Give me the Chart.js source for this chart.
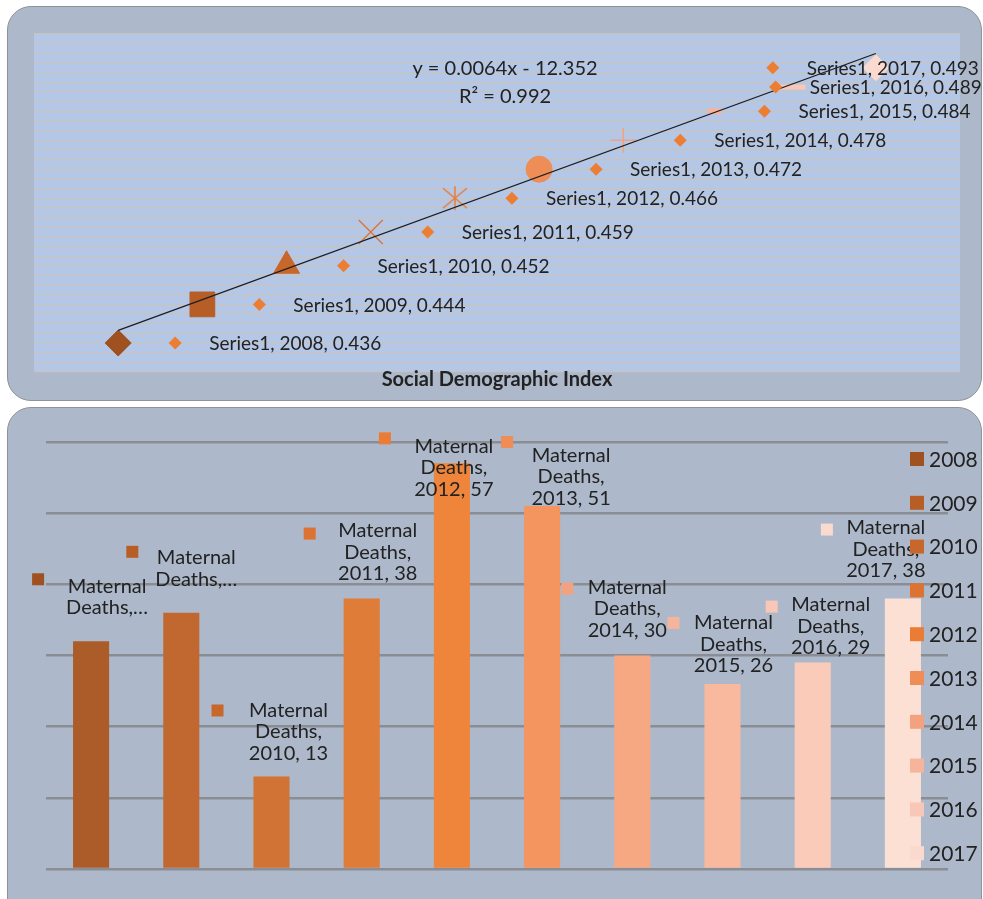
<!DOCTYPE html>
<html>
<head>
<meta charset="utf-8">
<script src="https://cdn.jsdelivr.net/npm/chart.js@4.4.1/dist/chart.umd.min.js"></script>
<style>
  body { margin: 0; background: #fff; width: 983px; height: 899px; overflow: hidden; position: relative; }
  .card { position: absolute; background: #adb9ca; border: 1px solid #8e939a; border-radius: 24px; box-sizing: border-box; }
  #topCard { left: 7px; top: 6px; width: 975px; height: 395px; }
  #bottomCard { left: 7px; top: 407px; width: 975px; height: 520px; }
  canvas { position: absolute; left: 0; }
  #sdiChart { top: 0; }
  #deathsChart { top: 400px; }
</style>
</head>
<body>
<div class="card" id="topCard"></div>
<div class="card" id="bottomCard"></div>
<canvas id="sdiChart" width="983" height="400"></canvas>
<canvas id="deathsChart" width="983" height="499"></canvas>
<script>
// data
const years = [2008, 2009, 2010, 2011, 2012, 2013, 2014, 2015, 2016, 2017];
const sdiValues = [0.436, 0.444, 0.452, 0.459, 0.466, 0.472, 0.478, 0.484, 0.489, 0.493];
const maternalDeaths = [32, 36, 13, 38, 57, 51, 30, 26, 29, 38];
const sdiSeriesName = 'Series1';
const deathsSeriesName = 'Maternal Deaths';
const trendText = ['y = 0.0064x - 12.352', 'R\u00b2 = 0.992'];
const sdiAxisTitle = 'Social Demographic Index';

// styles
const shades = ['#9f521f', '#b75e26', '#c8672c', '#dc7332', '#ea7c36', '#ee8d56', '#f2a27f', '#f5b49c', '#f8c7b7', '#fad9cf'];
const barShades = ['#ab5c28', '#c0682f', '#d07335', '#df7c38', '#ee853b', '#f4955f', '#f6a883', '#f8b99f', '#fbcbba', '#fde0d4'];
const textColor = '#222';
const FONT = 'Lato, "Open Sans", sans-serif';

// 6-armed asterisk marker like the Excel one (X plus a vertical bar)
function asteriskMarker(color) {
  const c = document.createElement('canvas');
  c.width = 28; c.height = 28;
  const g = c.getContext('2d');
  g.strokeStyle = color;
  g.lineWidth = 1.5;
  g.beginPath();
  g.moveTo(2, 4); g.lineTo(26, 24);
  g.moveTo(26, 4); g.lineTo(2, 24);
  g.moveTo(14, 2); g.lineTo(14, 26);
  g.stroke();
  return c;
}

const markerStyles = ['rectRot', 'rect', 'triangle', 'crossRot', asteriskMarker(shades[4]), 'circle', 'cross', 'dash', 'line', 'rectRot'];
const markerSizes = [13, 17.5, 15, 17, 13, 13, 12.5, 14, 14, 13];
const markerBorders = [1, 1, 1, 1.3, 1.3, 1, 1.5, 6, 5, 1];

// where the "Series1, year, value" labels sit, relative to each point
const sdiLabelShift = [57, 57, 57, 57, 57, 57, 57, 57, -16, -103];
// maternal deaths labels: text centre / key square, relative to bar top centre
const deathLabelPos = [
  { tx: 16, ty: -55, sx: -53, sy: -62, cut: true },
  { tx: 15, ty: -55, sx: -49, sy: -61, cut: true },
  { tx: 17, ty: -66, sx: -54, sy: -66 },
  { tx: 16, ty: -68, sx: -52, sy: -65 },
  { tx: 2, ty: -17, sx: -67, sy: -25 },
  { tx: 29, ty: -51, sx: -35, sy: -64 },
  { tx: -5, ty: -68, sx: -65, sy: -67 },
  { tx: 11, ty: -61, sx: -49, sy: -61 },
  { tx: 18, ty: -58, sx: -41, sy: -56 },
  { tx: -17, ty: -71, sx: -76, sy: -69 }
];

// linear fit for the trendline
const n = years.length;
const mx = years.reduce((a, b) => a + b, 0) / n;
const my = sdiValues.reduce((a, b) => a + b, 0) / n;
let sxy = 0, sxx = 0;
years.forEach((x, i) => { sxy += (x - mx) * (sdiValues[i] - my); sxx += (x - mx) * (x - mx); });
const slope = sxy / sxx;
const intercept = my - slope * mx;
const trendPoints = [years[0], years[n - 1]].map(x => ({ x: x, y: intercept + slope * x }));

const sdiDecor = {
  id: 'sdiDecor',
  beforeDraw(chart) {
    const { ctx, chartArea: a } = chart;
    ctx.save();
    ctx.fillStyle = '#b4c7e7';
    ctx.fillRect(a.left, a.top, a.right - a.left, a.bottom - a.top);
    ctx.restore();
  },
  afterDatasetsDraw(chart) {
    const { ctx, chartArea: a } = chart;
    const xs = chart.scales.x, ys = chart.scales.y;
    ctx.save();
    ctx.font = '19px ' + FONT;
    ctx.textBaseline = 'middle';
    years.forEach((yr, i) => {
      const px = xs.getPixelForValue(yr) + sdiLabelShift[i];
      const py = ys.getPixelForValue(sdiValues[i]);
      ctx.fillStyle = '#ed7d31';
      ctx.beginPath();
      ctx.moveTo(px, py - 6.5); ctx.lineTo(px + 6.5, py); ctx.lineTo(px, py + 6.5); ctx.lineTo(px - 6.5, py);
      ctx.closePath(); ctx.fill();
      ctx.fillStyle = textColor;
      ctx.textAlign = 'left';
      ctx.fillText(sdiSeriesName + ', ' + yr + ', ' + sdiValues[i].toFixed(3), px + 34, py + 1);
    });
    ctx.textAlign = 'center';
    ctx.font = '20px ' + FONT;
    ctx.fillText(trendText[0], a.left + 471, a.top + 35);
    ctx.fillText(trendText[1], a.left + 471, a.top + 63);
    ctx.font = 'bold 20px ' + FONT;
    ctx.fillText(sdiAxisTitle, (a.left + a.right) / 2, a.bottom + 8);
    ctx.restore();
  }
};

new Chart(document.getElementById('sdiChart'), {
  type: 'scatter',
  data: {
    datasets: [
      {
        label: 'Linear (' + sdiSeriesName + ')',
        data: trendPoints,
        showLine: true,
        borderColor: '#1e1e1e',
        borderWidth: 1.3,
        pointRadius: 0,
        order: 0
      },
      {
        label: sdiSeriesName,
        data: years.map((yr, i) => ({ x: yr, y: sdiValues[i] })),
        pointStyle: markerStyles,
        pointRadius: markerSizes,
        backgroundColor: shades,
        borderColor: shades,
        pointBorderWidth: markerBorders,
        order: 1
      }
    ]
  },
  options: {
    responsive: false,
    animation: false,
    layout: { padding: { left: 34, top: 34, right: 23, bottom: 28 } },
    plugins: { legend: { display: false }, tooltip: { enabled: false } },
    scales: {
      x: { type: 'linear', min: 2007, max: 2018, display: false },
      y: {
        min: 0.43, max: 0.5,
        ticks: { display: false, stepSize: 0.002 },
        grid: { color: '#c9c3bd', lineWidth: 1.2, drawTicks: false },
        border: { display: false },
        afterFit(s) { s.width = 0; }
      }
    }
  },
  plugins: [sdiDecor]
});

const deathsDecor = {
  id: 'deathsDecor',
  afterDatasetsDraw(chart) {
    const { ctx, chartArea: a } = chart;
    const bars = chart.getDatasetMeta(0).data;
    ctx.save();
    ctx.font = '20px ' + FONT;
    ctx.textBaseline = 'middle';
    ctx.textAlign = 'center';
    bars.forEach((bar, i) => {
      const p = deathLabelPos[i];
      ctx.fillStyle = shades[i];
      ctx.fillRect(bar.x + p.sx - 6, bar.y + p.sy - 6, 12, 12);
      const lines = p.cut ? ['Maternal', 'Deaths,\u2026'] : ['Maternal', 'Deaths,', years[i] + ', ' + maternalDeaths[i]];
      ctx.fillStyle = textColor;
      lines.forEach((t, k) => ctx.fillText(t, bar.x + p.tx, bar.y + p.ty + k * 21.5));
    });
    // legend on the right, over the plot
    ctx.font = '21px ' + FONT;
    ctx.textAlign = 'left';
    years.forEach((yr, i) => {
      const cy = a.top + 17 + i * 43.8;
      ctx.fillStyle = shades[i];
      ctx.fillRect(910, cy - 7, 14, 14);
      ctx.fillStyle = textColor;
      ctx.fillText(String(yr), 929, cy + 1);
    });
    ctx.restore();
  }
};

new Chart(document.getElementById('deathsChart'), {
  type: 'bar',
  data: {
    labels: years.map(String),
    datasets: [{
      label: deathsSeriesName,
      data: maternalDeaths,
      backgroundColor: barShades,
      categoryPercentage: 1,
      barPercentage: 0.4
    }]
  },
  options: {
    responsive: false,
    animation: false,
    layout: { padding: { left: 46, top: 42, right: 35, bottom: 30 } },
    plugins: { legend: { display: false }, tooltip: { enabled: false } },
    scales: {
      x: { display: false },
      y: {
        min: 0, max: 60,
        ticks: { display: false, stepSize: 10 },
        grid: { color: '#8a8e94', lineWidth: 2.5, drawTicks: false },
        border: { display: false },
        afterFit(s) { s.width = 0; }
      }
    }
  },
  plugins: [deathsDecor]
});
</script>
</body>
</html>
